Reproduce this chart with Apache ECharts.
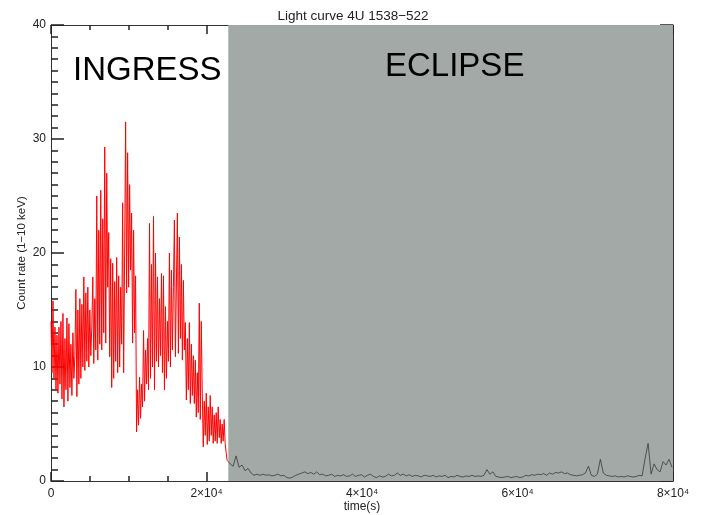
<!DOCTYPE html>
<html>
<head>
<meta charset="utf-8">
<script src="https://cdn.jsdelivr.net/npm/echarts@6/dist/echarts.min.js"></script>
<style>
html,body{margin:0;padding:0;background:#fff;}
#chart{width:706px;height:515px;}
</style>
</head>
<body>
<div id="chart"></div>
<script>
// ---- data ----
const titleText = 'Light curve 4U 1538\u2212522';
const xName = 'time(s)';
const yName = 'Count rate (1\u221210 keV)';
const xTicks = [0, 20000, 40000, 60000, 80000];
const yTicks = [0, 10, 20, 30, 40];
const eclipseStart = 22800;   // start of shaded eclipse region (s)
const eclipseEnd = 80000;
const ingressBin = 128;       // s per bin
const ingressStart = 0;
const ingressRate = [
 14.0, 9.5, 15.8, 9.0, 13.5, 8.0, 12.8, 7.7, 13.5, 8.5,
 14.0, 7.2, 14.7, 6.5, 12.5, 8.0, 14.3, 7.0, 13.8, 8.2,
 12.0, 7.5, 13.0, 9.0, 11.0, 16.8, 7.4, 15.0, 8.5, 16.0,
 9.0, 15.5, 10.0, 17.9, 9.7, 16.5, 10.5, 17.0, 10.0, 15.0,
 11.0, 13.5, 17.9, 10.3, 16.0, 11.5, 25.0, 10.6, 22.0, 12.0,
 25.5, 11.5, 23.0, 13.0, 29.3, 12.1, 27.0, 17.0, 21.8, 10.9,
 19.5, 8.2, 19.1, 9.0, 17.5, 10.5, 19.6, 9.5, 18.0, 10.0,
 17.0, 12.0, 24.4, 9.5, 20.0, 31.5, 16.5, 28.8, 17.0, 26.0,
 18.5, 23.5, 12.1, 22.0, 13.0, 18.0, 4.3, 8.0, 4.9, 9.1,
 5.5, 8.5, 6.5, 13.2, 7.0, 11.5, 8.5, 12.5, 8.0, 22.6,
 9.0, 19.0, 10.0, 23.2, 8.0, 20.0, 10.5, 17.9, 10.0, 16.0,
 11.0, 18.2, 9.5, 18.0, 8.0, 15.3, 9.0, 14.0, 10.5, 20.0,
 10.0, 18.5, 11.5, 17.0, 22.9, 10.9, 11.0, 23.5, 11.2, 21.4,
 12.5, 19.0, 10.6, 17.6, 11.5, 13.9, 7.1, 12.5, 8.0, 13.9,
 6.8, 12.0, 7.5, 11.0, 6.8, 10.6, 5.6, 9.5, 6.0, 15.6,
 5.4, 14.0, 7.7, 3.0, 7.0, 4.0, 7.7, 3.2, 6.5, 3.5,
 7.5, 4.0, 6.5, 3.3, 5.8, 3.5, 6.0, 3.3, 6.5, 3.8,
 5.4, 3.3, 5.0, 3.5, 5.4, 3.3, 2.5, 1.8
];
const eclipseBin = 384;       // s per bin
const eclipseDataStart = 22656;
const eclipseRate = [
 1.8, 1.5, 1.3, 2.2, 1.2, 1.4, 0.9, 1.1, 0.7, 0.5,
 0.6, 0.5, 0.6, 0.5, 0.55, 0.45, 0.5, 0.6, 0.45, 0.5,
 0.3, 0.25, 0.35, 0.5, 0.6, 0.7, 0.8, 0.65, 0.75, 0.6,
 0.8, 0.55, 0.6, 0.45, 0.5, 0.6, 0.4, 0.5, 0.45, 0.55,
 0.4, 0.45, 0.6, 0.4, 0.5, 0.55, 0.35, 0.5, 0.6, 0.4,
 0.3, 0.45, 0.35, 0.4, 0.6, 0.45, 0.5, 0.7, 0.5, 0.6,
 0.45, 0.55, 0.4, 0.5, 0.45, 0.35, 0.5, 0.45, 0.4, 0.5,
 0.35, 0.45, 0.4, 0.5, 0.3, 0.4, 0.35, 0.5, 0.4, 0.35,
 0.45, 0.4, 0.5, 0.4, 0.45, 0.4, 0.5, 1.0, 0.6, 0.8,
 0.4, 0.35, 0.3, 0.35, 0.4, 0.3, 0.35, 0.4, 0.3, 0.35,
 0.5, 0.45, 0.55, 0.5, 0.6, 0.55, 0.65, 0.5, 0.7, 0.6,
 0.75, 0.7, 0.8, 0.65, 0.7, 0.55, 0.5, 0.45, 0.5, 0.55,
 0.7, 1.3, 0.5, 0.4, 0.6, 1.9, 0.7, 0.5, 0.45, 0.4,
 0.45, 0.35, 0.4, 0.35, 0.45, 0.4, 0.35, 0.4, 0.5, 0.45,
 2.0, 3.3, 0.6, 1.5, 1.0, 0.8, 1.7, 1.4, 1.9, 1.2
];
const phaseLabels = ['INGRESS', 'ECLIPSE'];

// ---- build ----
const ingressData = ingressRate.map((v, i) => [ingressStart + i * ingressBin, v]);
const eclipseData = eclipseRate.map((v, i) => [eclipseDataStart + i * eclipseBin, v]);

const axisColor = '#333';
const tickColor = '#222';
const textColor = '#222';
const font = 'Liberation Sans';

function xLabel(v) {
  if (v === 0) return '0';
  return (v / 10000) + '\u00d710\u2074';
}

function mkX(extra) {
  return Object.assign({
    type: 'value', min: xTicks[0], max: xTicks[xTicks.length - 1], interval: 20000,
    axisLine: {show: true, onZero: false, lineStyle: {color: axisColor, width: 1}},
    axisTick: {show: true, inside: true, length: 9, lineStyle: {color: tickColor, width: 1.5}},
    minorTick: {show: true, splitNumber: 4, length: 5, lineStyle: {color: tickColor, width: 1.5}},
    splitLine: {show: false}
  }, extra);
}
function mkY(extra) {
  return Object.assign({
    type: 'value', min: yTicks[0], max: yTicks[yTicks.length - 1], interval: 10,
    axisLine: {show: true, onZero: false, lineStyle: {color: axisColor, width: 1}},
    axisTick: {show: true, inside: true, length: 13, lineStyle: {color: tickColor, width: 1.5}},
    minorTick: {show: true, splitNumber: 10, length: 7, lineStyle: {color: tickColor, width: 1.5}},
    splitLine: {show: false}
  }, extra);
}

const chart = echarts.init(document.getElementById('chart'));
chart.setOption({
  animation: false,
  title: {
    text: titleText, left: 'center', top: 4,
    textStyle: {fontFamily: font, fontSize: 13.5, fontWeight: 'normal', color: textColor}
  },
  grid: {left: 51, right: 33, top: 25, bottom: 34, containLabel: false, outerBoundsMode: 'none'},
  xAxis: [
    mkX({
      position: 'bottom',
      name: xName, nameLocation: 'middle', nameGap: 20, nameMoveOverlap: false,
      nameTextStyle: {fontFamily: font, fontSize: 12, color: textColor},
      axisLabel: {formatter: xLabel, margin: 7, fontFamily: font, fontSize: 12, color: textColor}
    }),
    mkX({position: 'top', axisLabel: {show: true, color: 'rgba(255,255,255,0)'}})
  ],
  yAxis: [
    mkY({
      position: 'left',
      name: yName, nameLocation: 'middle', nameGap: 23, nameMoveOverlap: false,
      nameTextStyle: {fontFamily: font, fontSize: 11.5, color: textColor},
      axisLabel: {margin: 5, fontFamily: font, fontSize: 12, color: textColor}
    }),
    mkY({position: 'right', axisLabel: {show: true, color: 'rgba(255,255,255,0)'}})
  ],
  series: [{
    type: 'line', data: [], z: 1,
    markArea: {
      silent: true,
      itemStyle: {color: '#a2a9a7'},
      data: [[{xAxis: eclipseStart}, {xAxis: eclipseEnd}]]
    }
  }, {
    type: 'line', data: ingressData, z: 3, showSymbol: false,
    lineStyle: {color: '#ff0000', width: 1}
  }, {
    type: 'line', data: eclipseData, z: 3, showSymbol: false,
    lineStyle: {color: '#3a3a3a', width: 0.8}
  }],
  graphic: [{
    type: 'text', left: 73, top: 54, z: 20,
    style: {text: phaseLabels[0], font: '33px "Liberation Sans"', fill: '#000'}
  }, {
    type: 'text', left: 385, top: 50, z: 20,
    style: {text: phaseLabels[1], font: '33px "Liberation Sans"', fill: '#000'}
  }]
});
</script>
</body>
</html>
